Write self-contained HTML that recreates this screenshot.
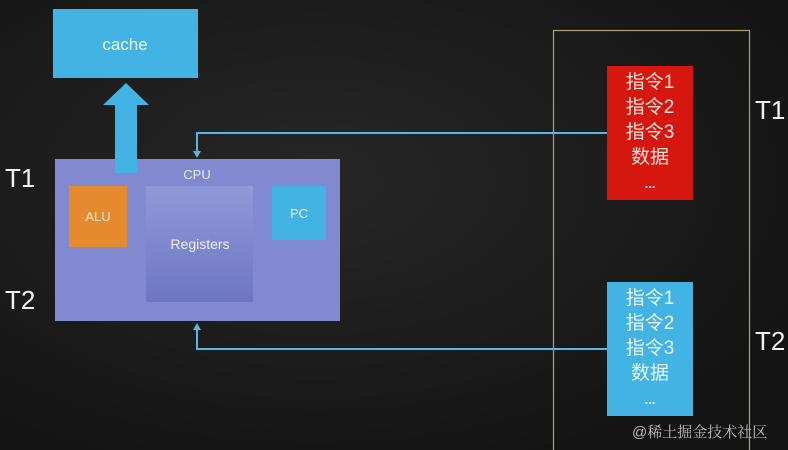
<!DOCTYPE html>
<html><head><meta charset="utf-8"><style>
body{margin:0;width:788px;height:450px;overflow:hidden;background:#1a1a1a;font-family:"Liberation Sans","Noto Sans CJK SC",sans-serif;}
.a{position:absolute;}
</style></head><body>
<div class="a" style="left:0;top:0;width:788px;height:450px;background:radial-gradient(ellipse at 40% 40%,#272727,#141414 80%);"></div>
<svg class="a" style="left:0;top:0" width="788" height="450">
<rect x="53" y="9" width="145" height="69" fill="#42b3e3"/>
<text x="125" y="50" fill="#e8f4fb" font-size="17" text-anchor="middle" font-family="Liberation Sans">cache</text>
<polygon points="126,83 149,105 137,105 137,175 115,175 115,105 103,105" fill="#42b3e3"/>
<rect x="55" y="159" width="285" height="162" fill="#8189d0"/>
<rect x="115" y="159" width="22" height="14" fill="#42b3e3"/>
<text x="197" y="179" fill="#e8eaf8" font-size="13" text-anchor="middle">CPU</text>
<rect x="69" y="186" width="58" height="61" fill="#e58a2e"/>
<text x="98" y="221" fill="#fbe8d4" font-size="13" text-anchor="middle">ALU</text>
<defs><linearGradient id="g" x1="0" y1="0" x2="0" y2="1"><stop offset="0" stop-color="#909ad8"/><stop offset="1" stop-color="#6d76c4"/></linearGradient></defs>
<rect x="146" y="186" width="107" height="116" fill="url(#g)"/>
<text x="200" y="249" fill="#eef0fa" font-size="14" text-anchor="middle">Registers</text>
<rect x="272" y="186" width="54" height="54" fill="#42b3e3"/>
<text x="299" y="218" fill="#e8f4fb" font-size="13" text-anchor="middle">PC</text>
<rect x="553.5" y="30.5" width="196" height="430" fill="none" stroke="#a9a46a" stroke-width="1.2"/>
<rect x="607" y="66" width="86" height="134" fill="#d6170f"/>
<rect x="607" y="282" width="86" height="134" fill="#42b3e3"/>
<polyline points="607,133 197,133 197,154" fill="none" stroke="#55b8e0" stroke-width="2"/>
<polygon points="193,151 201,151 197,158" fill="#55b8e0"/>
<polyline points="607,349 197,349 197,327" fill="none" stroke="#55b8e0" stroke-width="2"/>
<polygon points="193,330 201,330 197,323" fill="#55b8e0"/>
<g fill="#f2f2f2" font-size="26">
<text x="5" y="187">T1</text><text x="5" y="309">T2</text>
<text x="755" y="119">T1</text><text x="755" y="350">T2</text>
</g>
</svg>
<div class="a" style="left:607px;top:70px;width:86px;text-align:center;color:#f6e4d8;font-size:19px;line-height:25px;">指令1<br>指令2<br>指令3<br>数据<br><span style="font-size:13px;line-height:20px;font-weight:bold">...</span></div>
<div class="a" style="left:607px;top:286px;width:86px;text-align:center;color:#eaf6fc;font-size:19px;line-height:25px;">指令1<br>指令2<br>指令3<br>数据<br><span style="font-size:13px;line-height:20px;font-weight:bold">...</span></div>
<div class="a" style="left:632px;top:421px;color:#bbbbbb;font-size:15px;font-family:'Liberation Sans','Noto Serif CJK SC',serif;">@稀土掘金技术社区</div>
</body></html>
